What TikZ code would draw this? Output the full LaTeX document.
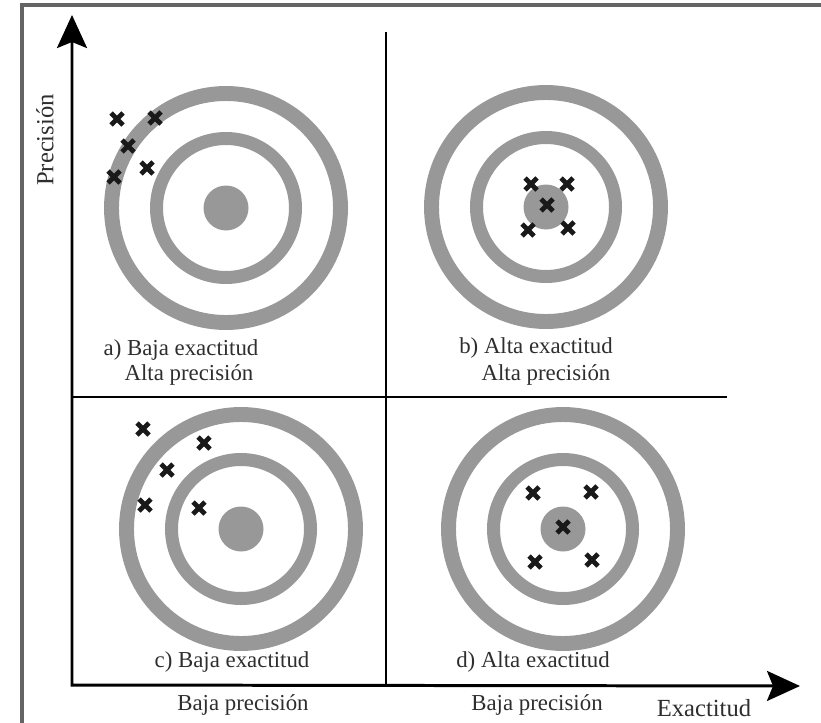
\documentclass[tikz,border=0pt]{standalone}
\usepackage{fontspec}
\setmainfont{Liberation Serif}
\usetikzlibrary{arrows.meta}
\definecolor{anillo}{RGB}{152,152,152}
\definecolor{marco}{RGB}{100,100,100}
\newcommand{\diana}[1] {
  \draw[anillo,line width=8.5pt] (#1) circle (114.5);
  \draw[anillo,line width=7.4pt] (#1) circle (69.5);
  \fill[anillo] (#1) circle (22.5);}
\tikzset{
  texto/.style={font=\fontsize{13}{15}\selectfont,text=black!82,inner sep=0pt},
  eje/.style={line width=1.7pt,{Stealth[length=6.6mm,width=6mm,inset=1.2mm]}-{Stealth[length=6.6mm,width=6mm,inset=1.2mm]}},
  divisor/.style={line width=1.4pt},
  cruz/.style={line width=2.7pt,black!90}}

\begin{document}
\begin{tikzpicture}[x=0.02cm,y=-0.02cm]
					\useasboundingbox (0,0) rectangle (821,723);
					%MARCO
					\draw[marco,line width=0.07cm] (22,723) -- (22,5) -- (821,5);
					%EJES
					\coordinate (O) at (72,685);
					\coordinate (Y) at (72,15);
					\coordinate (X) at (800,686);
					\draw[eje] (Y) -- (O) -- (X);
					\coordinate (v1) at (386,32);
					\coordinate (v2) at (386,685);
					\coordinate (h1) at (72,397);
					\coordinate (h2) at (727,397);
					\draw[divisor] (v1) -- (v2);
					\draw[divisor] (h1) -- (h2);
					\node[texto,font=\fontsize{14}{16}\selectfont,rotate=90] (prec) at (45,140) {Precisión};
					\node[texto,font=\fontsize{14}{16}\selectfont] (exac) at (704,708) {Exactitud};
					%DIANAS
					\coordinate (A) at (226,208);
					\coordinate (B) at (546,207);
					\coordinate (C) at (241,529);
					\coordinate (D) at (563,529);
					\diana{A} \diana{B} \diana{C} \diana{D}
					%CRUCES
					\foreach \x/\y in {117/119,155/118,128/146,147/168,114/177,
						531/184,567/184,547/205,528/230,568/228,
						143/429,204/443,167/470,145/505,199/508,
						533/493,591/492,563/527,535/562,592/560}
						\draw[cruz] (\x,\y) +(-6,-6) -- +(6,6) +(-6,6) -- +(6,-6);
					%TEXTOS
					\node[texto] (a1) at (181,350) {a) Baja exactitud};
					\node[texto] (a2) at (189,375) {Alta precisión};
					\node[texto] (b1) at (536,348) {b) Alta exactitud};
					\node[texto] (b2) at (546,375) {Alta precisión};
					\node[texto] (c1) at (232,662) {c) Baja exactitud};
					\node[texto] (c2) at (243,705) {Baja precisión};
					\node[texto] (d1) at (533,662) {d) Alta exactitud};
					\node[texto] (d2) at (537,705) {Baja precisión};
	  \end{tikzpicture}
\end{document}
